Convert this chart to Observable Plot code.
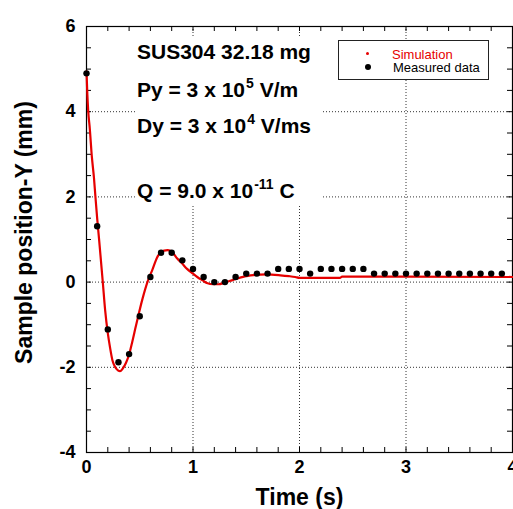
<!DOCTYPE html>
<html><head><meta charset="utf-8">
<script src="https://cdn.jsdelivr.net/npm/d3@7"></script>
<script src="https://cdn.jsdelivr.net/npm/@observablehq/plot@0.6"></script>
<style>
body{margin:0;background:#fff;}
#wrap{position:relative;width:513px;height:509px;overflow:hidden;font-family:'Liberation Sans',Arial,sans-serif;}
.ann{position:absolute;left:136px;top:37px;width:185px;height:168px;background:#fff;}
.ann div{position:absolute;left:1px;font-weight:bold;font-size:21px;line-height:21px;white-space:nowrap;color:#000;}
.ann sup{font-size:14px;line-height:0;vertical-align:baseline;position:relative;top:-9px;margin-left:1px;}
.leg{position:absolute;left:338px;top:40px;width:149px;height:38px;border:1px solid #222;background:#fff;}
.leg .t{position:absolute;font-size:13px;line-height:12px;white-space:nowrap;}
.leg .d{position:absolute;border-radius:50%;}
</style>
</head><body>
<div id="wrap">
  <div class="ann">
    <div style="top:4px">SUS304 32.18 mg</div>
    <div style="top:42px">Py = 3 x 10<sup>5</sup> V/m</div>
    <div style="top:78px">Dy = 3 x 10<sup>4</sup> V/ms</div>
    <div style="top:143px">Q = 9.0 x 10<sup>-11</sup> C</div>
  </div>
  <div class="leg">
    <div class="d" style="left:27px;top:11px;width:3px;height:3px;background:#e60000"></div>
    <div class="t" style="left:53px;top:8px;color:#e60000">Simulation</div>
    <div class="d" style="left:26px;top:23px;width:6px;height:6px;background:#000"></div>
    <div class="t" style="left:54px;top:21px;color:#000">Measured data</div>
  </div>
</div>
<script>
// Measured data (time in s, position in mm)
const measT = [0.0,0.1,0.2,0.3,0.4,0.5,0.6,0.7,0.8,0.9,1.0,1.1,1.2,1.3,1.4,1.5,1.6,1.7,1.8,1.9,2.0,2.1,2.2,2.3,2.4,2.5,2.6,2.7,2.8,2.9,3.0,3.1,3.2,3.3,3.4,3.5,3.6,3.7,3.8,3.9];
const measY = [4.90,1.31,-1.11,-1.88,-1.69,-0.80,0.12,0.69,0.69,0.51,0.31,0.12,0.00,0.00,0.12,0.20,0.20,0.20,0.31,0.31,0.31,0.20,0.31,0.31,0.31,0.31,0.31,0.20,0.20,0.20,0.20,0.20,0.20,0.20,0.20,0.20,0.20,0.20,0.20,0.20];

// Simulation curve
const simT = [0.000,0.008,0.016,0.031,0.050,0.070,0.084,0.100,0.120,0.153,0.175,0.200,0.222,0.244,0.270,0.295,0.315,0.340,0.370,0.400,0.430,0.462,0.493,0.525,0.572,0.620,0.663,0.697,0.730,0.760,0.790,0.820,0.850,0.897,0.944,1.000,1.040,1.090,1.130,1.190,1.240,1.290,1.350,1.410,1.480,1.540,1.690,1.820,1.900,1.960,2.000,2.380,2.400,3.000,4.000];
const simY = [4.95,4.40,4.02,3.60,2.95,2.45,2.00,1.50,0.95,0.00,-0.66,-1.20,-1.55,-1.84,-2.00,-2.07,-2.09,-2.03,-1.90,-1.70,-1.40,-1.05,-0.72,-0.40,0.00,0.30,0.58,0.70,0.74,0.75,0.73,0.66,0.56,0.44,0.31,0.20,0.12,0.04,-0.02,-0.05,-0.05,-0.02,0.03,0.08,0.13,0.16,0.18,0.16,0.14,0.12,0.10,0.10,0.13,0.13,0.12];

// Axes
const xTickLabels = [0,1,2,3,4];
const yTickLabels = [-4,-2,0,2,4,6];
const xGrid = [1,2,3];
const yGrid = [-2,0,2,4];
const xMinorTicks = [0,0.2,0.4,0.6,0.8,1,1.2,1.4,1.6,1.8,2,2.2,2.4,2.6,2.8,3,3.2,3.4,3.6,3.8,4];
const yMinorTicks = [-4,-3.5,-3,-2.5,-2,-1.5,-1,-0.5,0,0.5,1,1.5,2,2.5,3,3.5,4,4.5,5,5.5,6];
const xTitle = "Time (s)";
const yTitle = "Sample position-Y (mm)";

const W = 513, H = 509, mL = 86, mR = 1, mT = 26, mB = 57;
const innerW = W - mL - mR, innerH = H - mT - mB;
const tickLen = 5;

const meas = measT.map((t, i) => ({t, y: measY[i]}));
const sim = simT.map((t, i) => ({t, y: simY[i]}));

const chart = Plot.plot({
  width: W, height: H,
  marginLeft: mL, marginRight: mR, marginTop: mT, marginBottom: mB,
  style: {fontFamily: "'Liberation Sans', Arial, sans-serif", fontSize: "18px", fontWeight: "bold", background: "transparent"},
  x: {domain: [0, 4]},
  y: {domain: [-4, 6]},
  marks: [
    Plot.ruleX(xGrid, {x: d => d, stroke: "#333", strokeDasharray: "1,2", strokeWidth: 1}),
    Plot.ruleY(yGrid, {y: d => d, stroke: "#333", strokeDasharray: "1,2", strokeWidth: 1}),
    Plot.tickX(xMinorTicks, {x: d => d, insetTop: innerH - tickLen, stroke: "#000"}),
    Plot.tickX(xMinorTicks, {x: d => d, insetBottom: innerH - tickLen, stroke: "#000"}),
    Plot.tickY(yMinorTicks, {y: d => d, insetRight: innerW - tickLen, stroke: "#000"}),
    Plot.tickY(yMinorTicks, {y: d => d, insetLeft: innerW - tickLen, stroke: "#000"}),
    Plot.frame({stroke: "#000", strokeWidth: 1.2}),
    Plot.axisX({ticks: xTickLabels, tickSize: 0, tickPadding: 8, tickFormat: d => String(d), label: null, fontSize: 18, fontWeight: "bold"}),
    Plot.axisY({ticks: yTickLabels, tickSize: 0, tickPadding: 11, tickFormat: d => String(d), label: null, fontSize: 18, fontWeight: "bold"}),
    Plot.text([xTitle], {text: d => d, frameAnchor: "bottom", textAnchor: "middle", lineAnchor: "middle", dy: 45, fontSize: 23, fontWeight: "bold"}),
    Plot.text([yTitle], {text: d => d, frameAnchor: "left", textAnchor: "middle", lineAnchor: "middle", rotate: -90, dx: -62, dy: -7, fontSize: 23, fontWeight: "bold"}),
    Plot.line(sim, {x: "t", y: "y", stroke: "#e60000", strokeWidth: 2.2, curve: "monotone-x"}),
    Plot.dot(meas, {x: "t", y: "y", r: 3.2, fill: "#000", stroke: "none"})
  ]
});
chart.style.position = "absolute";
chart.style.left = "0px";
chart.style.top = "0px";
const wrap = document.getElementById("wrap");
wrap.insertBefore(chart, wrap.firstChild);
</script>
</body></html>
